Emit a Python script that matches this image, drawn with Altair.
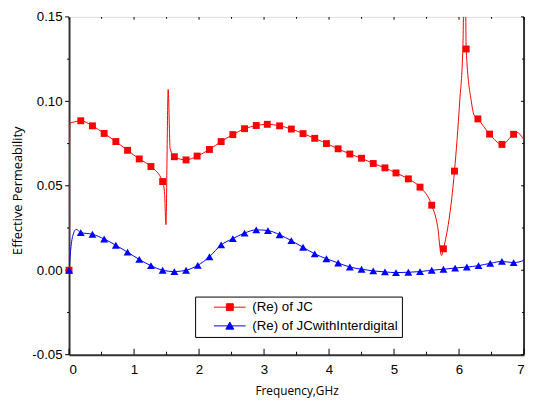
import altair as alt
import pandas as pd

SERIES = ["(Re) of JC", "(Re) of JCwithInterdigital"]
COLORS = ["#ff0000", "#0000ff"]

# (Re) of JC : marker points
jc_freq = [0.00, 0.18, 0.36, 0.54, 0.72, 0.90, 1.08, 1.26, 1.44, 1.62, 1.80, 1.97,
           2.16, 2.34, 2.52, 2.70, 2.88, 3.05, 3.24, 3.42, 3.60, 3.78, 3.96, 4.14,
           4.32, 4.50, 4.68, 4.86, 5.03, 5.22, 5.40, 5.58, 5.76, 5.93, 6.11, 6.29,
           6.47, 6.66, 6.84]
jc_val = [0.0000, 0.0885, 0.0855, 0.0810, 0.0762, 0.0710, 0.0659, 0.0614, 0.0525,
          0.0672, 0.0653, 0.0676, 0.0715, 0.0762, 0.0803, 0.0838, 0.0857, 0.0864,
          0.0855, 0.0836, 0.0809, 0.0781, 0.0750, 0.0719, 0.0688, 0.0663, 0.0632,
          0.0606, 0.0576, 0.0541, 0.0492, 0.0385, 0.0127, 0.0587, 0.1310, 0.0896,
          0.0806, 0.0745, 0.0805]
# (Re) of JC : extra curve points between markers (resonances)
jc_extra_freq = [0.012, 0.08, 1.47, 1.49, 1.525, 1.555, 5.67, 5.73, 6.01, 6.06,
                 6.09, 6.19, 6.23, 6.89, 7.00]
jc_extra_val = [0.0870, 0.0878, 0.0450, 0.0270, 0.1070, 0.0720, 0.0260, 0.0087,
                0.0997, 0.1330, 0.2000, 0.0997, 0.0920, 0.0816, 0.0770]

# (Re) of JCwithInterdigital : marker points
jci_freq = [0.00, 0.18, 0.36, 0.54, 0.72, 0.90, 1.08, 1.26, 1.44, 1.62, 1.80, 1.98,
            2.16, 2.34, 2.52, 2.70, 2.88, 3.06, 3.24, 3.42, 3.60, 3.78, 3.96, 4.14,
            4.32, 4.50, 4.68, 4.86, 5.03, 5.22, 5.40, 5.58, 5.76, 5.94, 6.12, 6.30,
            6.48, 6.66, 6.84]
jci_val = [0.0000, 0.0223, 0.0213, 0.0185, 0.0148, 0.0107, 0.0064, 0.0027, 0.0000,
           -0.0008, 0.0000, 0.0029, 0.0080, 0.0150, 0.0187, 0.0220, 0.0239, 0.0235,
           0.0210, 0.0175, 0.0136, 0.0097, 0.0068, 0.0043, 0.0019, 0.0006, -0.0004,
           -0.0010, -0.0014, -0.0012, -0.0008, 0.0000, 0.0006, 0.0013, 0.0019, 0.0027,
           0.0041, 0.0052, 0.0045]
jci_extra_freq = [0.03, 0.07, 0.11, 7.00]
jci_extra_val = [0.0140, 0.0220, 0.0242, 0.0058]

# axis ticks
x_major = [0, 1, 2, 3, 4, 5, 6, 7]
x_minor = [0.5, 1.5, 2.5, 3.5, 4.5, 5.5, 6.5]
y_major = [-0.05, 0.0, 0.05, 0.10, 0.15]
y_minor = [-0.025, 0.025, 0.075, 0.125]
X_MIN, X_MAX = 0, 7
Y_MIN, Y_MAX = -0.05, 0.15

PATH_SQ = "M-4.6,0H4.6M-1,-1H1V1H-1Z"
PATH_TRI = "M-4.6,0H4.6M0,-1.1L1.15,0.95H-1.15Z"

jc_markers = pd.DataFrame({"f": jc_freq, "v": jc_val})
jci_markers = pd.DataFrame({"f": jci_freq, "v": jci_val})
jc_line = pd.DataFrame({"f": jc_freq + jc_extra_freq, "v": jc_val + jc_extra_val}).sort_values("f")
jci_line = pd.DataFrame({"f": jci_freq + jci_extra_freq, "v": jci_val + jci_extra_val}).sort_values("f")
legend_df = pd.DataFrame({"f": [X_MIN, X_MIN], "v": [0.0, 0.0], "s": SERIES})

XS = alt.Scale(domain=[X_MIN, X_MAX], nice=False, zero=False)
YS = alt.Scale(domain=[Y_MIN, Y_MAX], nice=False, zero=False)

x_axis = alt.Axis(values=x_major, format="d", ticks=False, tickSize=0, grid=False,
                  domainColor="#333333", domainWidth=2, labelFont="Liberation Sans",
                  labelFontSize=13.5, labelColor="black", labelPadding=8,
                  titleFont="Open Sans", titleFontSize=12, titleFontWeight="normal",
                  titleColor="black", titleY=40.5, titleBaseline="alphabetic")
y_axis = alt.Axis(values=y_major, ticks=False, tickSize=0, grid=False,
                  labelExpr="datum.value < 0 ? '-' + format(-datum.value, '.2f') : format(datum.value, '.2f')",
                  domainColor="#333333", domainWidth=2, labelFont="Liberation Sans",
                  labelFontSize=13.5, labelColor="black", labelPadding=7,
                  titleFont="Open Sans", titleFontSize=13, titleFontWeight="normal",
                  titleColor="black", titleX=-48, titleY=176, titleAngle=270,
                  titleAlign="center", titleBaseline="alphabetic")


def X(field="f"):
    return alt.X(f"{field}:Q", scale=XS, axis=x_axis, title="Frequency,GHz")


def Y(field="v"):
    return alt.Y(f"{field}:Q", scale=YS, axis=y_axis, title="Effective Permeability")


line_jc = alt.Chart(jc_line).mark_line(interpolate="monotone", strokeWidth=1, clip=True,
                                       color=COLORS[0]).encode(x=X(), y=Y())
line_jci = alt.Chart(jci_line).mark_line(interpolate="monotone", strokeWidth=1, clip=True,
                                         color=COLORS[1]).encode(x=X(), y=Y())
squares = alt.Chart(jc_markers).mark_square(size=49, opacity=1, color=COLORS[0]).encode(x=X(), y=Y())
triangles = alt.Chart(jci_markers).mark_point(shape="triangle-up", filled=True, size=64, opacity=1,
                                              color=COLORS[1]).encode(x=X(), y=Y())

leg_props = dict(orient="none", legendX=128, legendY=284, padding=4, strokeColor="black",
                 fillColor="white", cornerRadius=0, symbolSize=49, symbolStrokeWidth=1,
                 symbolOffset=24.5, labelOffset=16, labelFont="Liberation Sans",
                 labelFontSize=13.5, labelColor="black", rowPadding=4, labelLimit=400,
                 symbolOpacity=1,
                 labelExpr="datum.label + '\u00a0\u00a0\u00a0\u00a0\u00a0\u00a0\u00a0'", title=None)
# invisible layer that only carries the legend (line + marker symbols)
legend_layer = alt.Chart(legend_df).mark_point(filled=True, size=49, opacity=0).encode(
    x=X(), y=Y(),
    fill=alt.Fill("s:N", scale=alt.Scale(domain=SERIES, range=COLORS), legend=alt.Legend(**leg_props)),
    stroke=alt.Stroke("s:N", scale=alt.Scale(domain=SERIES, range=COLORS), legend=alt.Legend(**leg_props)),
    shape=alt.Shape("s:N", scale=alt.Scale(domain=SERIES, range=[PATH_SQ, PATH_TRI]), legend=alt.Legend(**leg_props)),
)


def tick_layer(fs, vs, orient, size, xo=0, yo=0):
    df = pd.DataFrame({"f": fs, "v": vs})
    return alt.Chart(df).mark_tick(orient=orient, size=size, thickness=1, color="black",
                                   opacity=1, xOffset=xo, yOffset=yo).encode(x=X(), y=Y())


ticks = [
    # bottom, inward
    tick_layer(x_major, [Y_MIN] * len(x_major), "vertical", 6, yo=-3),
    tick_layer(x_minor, [Y_MIN] * len(x_minor), "vertical", 3, yo=-1.5),
    # top, inward
    tick_layer(x_major, [Y_MAX] * len(x_major), "vertical", 3, yo=1.5),
    tick_layer(x_minor, [Y_MAX] * len(x_minor), "vertical", 2, yo=1),
    # left, outward
    tick_layer([X_MIN] * len(y_major), y_major, "horizontal", 4, xo=-2),
    tick_layer([X_MIN] * len(y_minor), y_minor, "horizontal", 2, xo=-1),
    # right, inward
    tick_layer([X_MAX] * len(y_major), y_major, "horizontal", 3, xo=-1.5),
    tick_layer([X_MAX] * len(y_minor), y_minor, "horizontal", 2, xo=-1),
]

right_border = alt.Chart(pd.DataFrame({"f": [X_MAX], "v": [Y_MIN], "v2": [Y_MAX]})).mark_rule(
    color="#333333", strokeWidth=2
).encode(x=X(), y=Y(), y2=alt.Y2("v2:Q"))

chart = alt.layer(right_border, *ticks, line_jc, line_jci, squares, triangles, legend_layer).properties(
    width=462, height=343,
    autosize=alt.AutoSizeParams(type="none"),
    padding={"left": 62, "top": 6, "right": 2, "bottom": 44},
).configure_view(stroke="black", strokeWidth=1).configure(background="white")

chart.save("out.html", embed_options={"renderer": "svg", "actions": False})
